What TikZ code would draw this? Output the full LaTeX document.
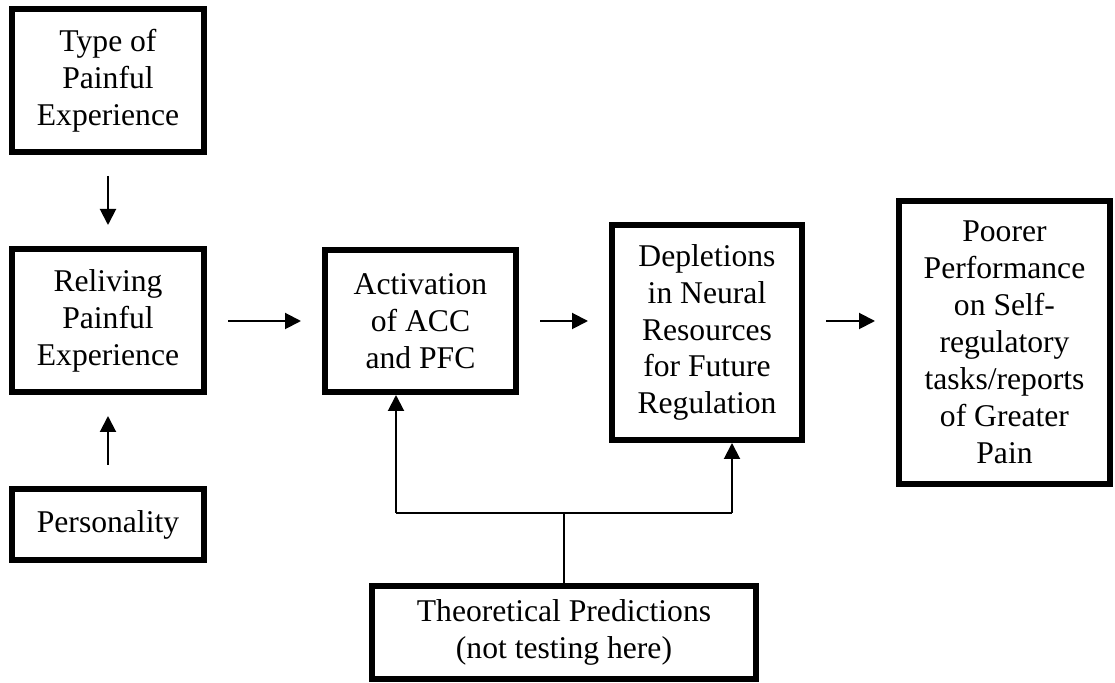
\documentclass[tikz,border=0pt]{standalone}
\usepackage{fontspec}
\setmainfont{Liberation Serif}
\usetikzlibrary{arrows.meta}
\tikzset{
    box/.style={rectangle, draw, line width = 0.12cm, align = center,
                inner sep = 0, font=\fontsize{18}{21}\selectfont},
    arr/.style={line width = 0.04cm, -{Triangle[length=0.32cm, width=0.32cm]}},
    gap/.style={shorten <= 0.42cm, shorten >= 0.42cm},
}

\begin{document}
\begin{tikzpicture}
        \useasboundingbox (0,0) rectangle (22.3,-13.66);
        % Left column
        \node[box, minimum width = 3.84cm, minimum height = 2.86cm] (Type) at (2.16,-1.61)
            {Type of\\Painful\\Experience};
        \node[box, minimum width = 3.84cm, minimum height = 2.86cm] (Reliv) at (2.16,-6.41)
            {Reliving\\Painful\\Experience};
        \node[box, minimum width = 3.84cm, minimum height = 1.42cm] (Pers) at (2.16,-10.49)
            {Personality};
        %
        % Middle row
        \node[box, minimum width = 3.82cm, minimum height = 2.84cm] (Activ) at (8.41,-6.42)
            {Activation\\of ACC\\and PFC};
        \node[box, minimum width = 3.80cm, minimum height = 4.30cm] (Deplet) at (14.14,-6.65)
            {Depletions\\in Neural\\Resources\\for Future\\Regulation};
        \node[box, minimum width = 4.22cm, minimum height = 5.66cm] (Poor) at (20.09,-6.85)
            {Poorer\\Performance\\on Self-\\regulatory\\tasks/reports\\of Greater\\Pain};
        %
        % Bottom
        \node[box, minimum width = 7.68cm, minimum height = 1.86cm] (Theo) at (11.28,-12.65)
            {Theoretical Predictions\\(not testing here)};
        %
        % Arrows
        \draw[arr, gap] (Type) -- (Reliv);
        \draw[arr, gap] (Pers) -- (Reliv);
        \draw[arr, gap] (Reliv.east |- Activ.east) -- (Activ.west);
        \draw[arr, gap] (Activ.east) -- (Activ.east -| Deplet.west);
        \draw[arr, gap] (Deplet.east |- Activ.east) -- (Poor.west |- Activ.east);
        %
        % Theoretical predictions
        \coordinate (split) at (11.28,-10.26);
        \coordinate (joinL) at (7.92,-10.26);
        \coordinate (joinR) at (14.64,-10.26);
        \draw[line width = 0.04cm] (Theo.north) -- (split);
        \draw[line width = 0.04cm] (joinL) -- (joinR);
        \draw[arr] (joinL) -- (joinL |- Activ.south);
        \draw[arr] (joinR) -- (joinR |- Deplet.south);
\end{tikzpicture}
\end{document}
